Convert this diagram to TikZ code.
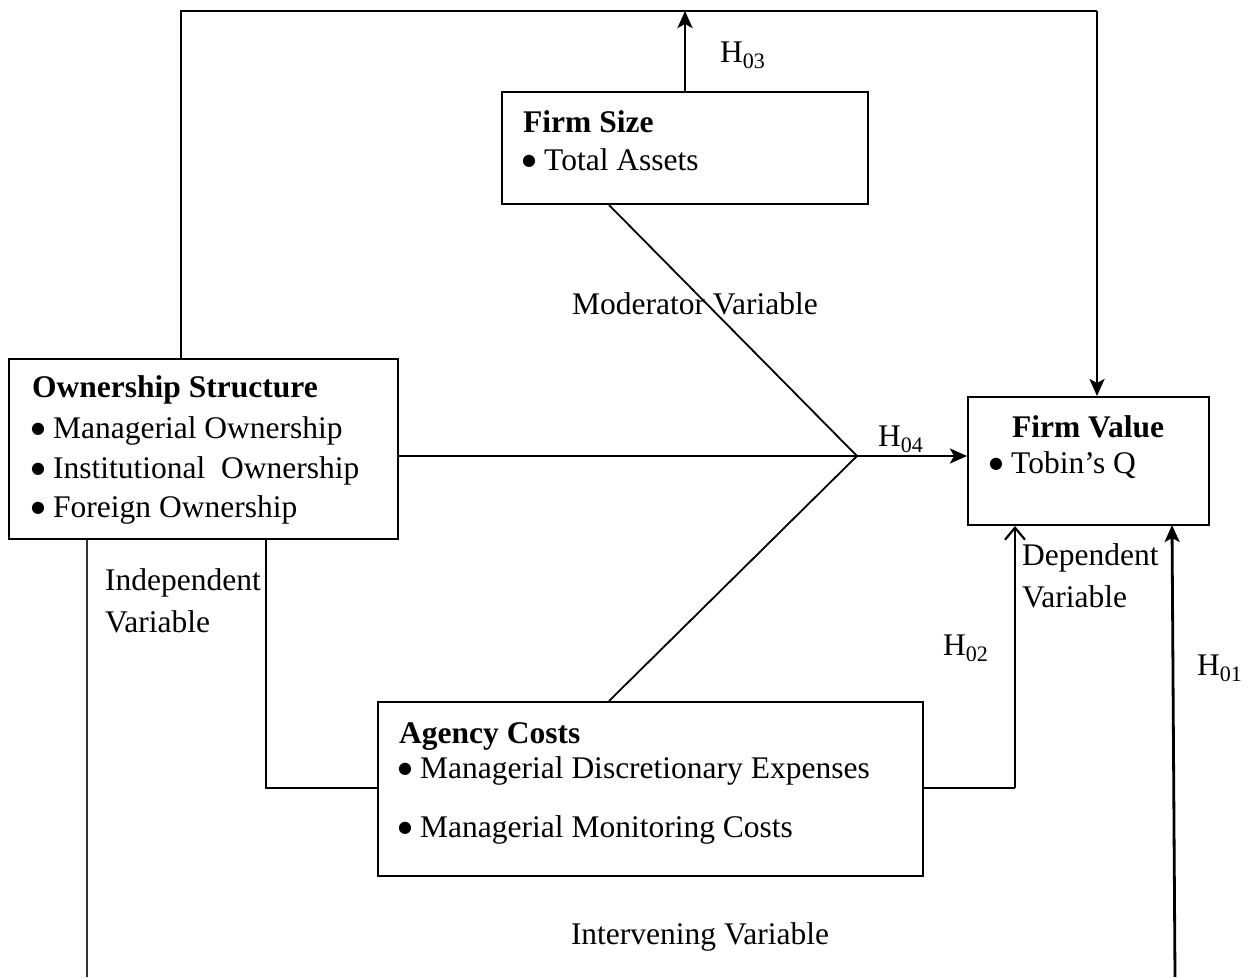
\documentclass[tikz,border=0pt]{standalone}
\usepackage{fontspec}
\setmainfont{Liberation Serif}
\newfontfamily\symfont{DejaVu Sans}
\usetikzlibrary{arrows.meta,calc}
\newcommand\mybul{\makebox[21pt][l]{\hspace{-1pt}\raisebox{4.5pt}{\symfont\fontsize{16}{16}\selectfont ●}}}
\begin{document}
\begin{tikzpicture}[x={(1pt,0)},y={(0,-1pt)},
  box/.style={draw,line width=2pt,inner sep=0pt},
  txt/.style={anchor=base west,inner sep=0pt,font=\fontsize{31.5}{40}\selectfont},
  ctxt/.style={anchor=base,inner sep=0pt,font=\fontsize{31.5}{40}\selectfont},
  conn/.style={line width=2pt},
  diag/.style={line width=1.8pt},
  thinconn/.style={line width=1.3pt,draw=black!80},
  arr/.style={line width=2.8pt,-{Stealth[length=17pt,width=15pt,inset=4pt]}},
  openarr/.style={line width=2.8pt,-{Straight Barb[length=12pt,width=20pt,line width=2.2pt]}}]
\useasboundingbox (0,0) rectangle (1255,977);
% boxes
\node[box,minimum width=366pt,minimum height=112pt] (fs) at (685,148) {};
\node[box,minimum width=389pt,minimum height=180pt] (os) at (203.5,449) {};
\node[box,minimum width=241pt,minimum height=128pt] (fv) at (1088.5,461) {};
\node[box,minimum width=545pt,minimum height=174pt] (ac) at (650.5,789) {};
% texts
\node[txt] (fs1) at (523,132) {\bfseries Firm Size};
\node[txt] (fs2) at (523,170) {\mybul Total Assets};
\node[txt] (os1) at (32,397) {\bfseries Ownership Structure};
\node[txt] (os2) at (32,438) {\mybul Managerial Ownership};
\node[txt] (os3) at (32,478) {\mybul Institutional\ \ Ownership};
\node[txt] (os4) at (32,517) {\mybul Foreign Ownership};
\node[ctxt] (fv1) at (1088,437) {\bfseries Firm Value};
\node[txt] (fv2) at (990,473) {\mybul Tobin’s Q};
\node[txt] (ac1) at (399,743) {\bfseries Agency Costs};
\node[txt] (ac2) at (399,778) {\mybul Managerial Discretionary Expenses};
\node[txt] (ac3) at (399,837) {\mybul Managerial Monitoring Costs};
% labels
\node[txt] (h3) at (720,62) {H\textsubscript{03}};
\node[txt] (h4) at (878,446) {H\textsubscript{04}};
\node[txt] (h2) at (943,655) {H\textsubscript{02}};
\node[txt] (h1) at (1197,675) {H\textsubscript{01}};
\node[ctxt] (mod) at (695,314) {Moderator Variable};
\node[txt] (ind1) at (105,590) {Independent};
\node[txt] (ind2) at (105,632) {Variable};
\node[txt] (dep1) at (1022,565) {Dependent};
\node[txt] (dep2) at (1022,607) {Variable};
\node[ctxt] (inter) at (700,944) {Intervening Variable};
% coordinates
\coordinate (tl) at (181,11);
\coordinate (tr) at (1097,11);
\coordinate (j) at (857,456);
\coordinate (lb) at (266,788);
\coordinate (rb) at (1015,788);
\coordinate (h1b) at (1175,977);
\coordinate (ob) at (87,977);
% connectors
\draw[conn] (tl |- os.north) -- (tl) -- (tr);
\draw[arr] (tr) -- (tr |- fv.north);
\draw[arr] (fs.north) -- (fs.north |- tl);
\draw[diag] ($(fs.south west)+(108,0)$) -- (j);
\draw[diag] ($(ac.north west)+(232,0)$) -- (j);
\draw[conn] (os.east |- j) -- (j);
\draw[arr] (j) -- (fv.west |- j);
\draw[conn] (lb |- os.south) -- (lb) -- (ac.west |- lb);
\draw[conn] (ac.east |- rb) -- (rb);
\draw[openarr] (rb) -- (rb |- fv.south);
\draw[arr] (h1b) -- (1172,525);
\draw[thinconn] (ob |- os.south) -- (ob);
\end{tikzpicture}
\end{document}
